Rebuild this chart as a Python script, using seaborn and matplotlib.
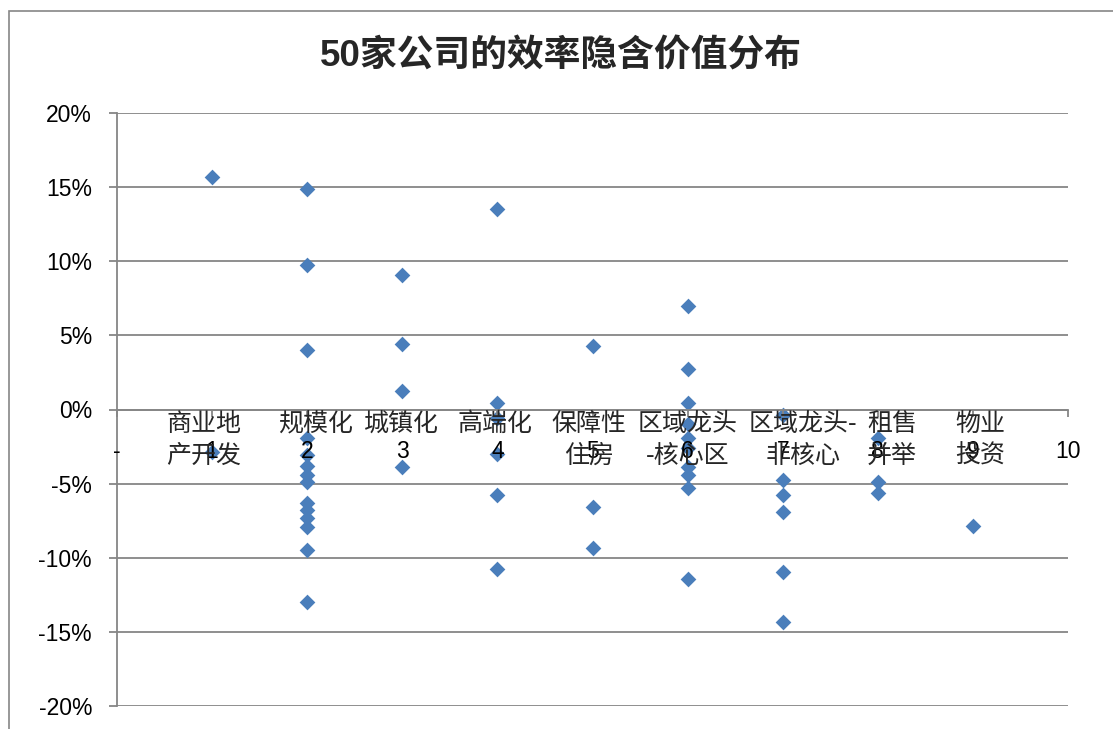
import numpy as np
import pandas as pd
import matplotlib
matplotlib.use("Agg")
import matplotlib.pyplot as plt
import seaborn as sns
from matplotlib.ticker import FuncFormatter
from matplotlib.patches import Rectangle

# ---- data -------------------------------------------------------------
title = "50家公司的效率隐含价值分布"

# category names, split over two lines
label_line1 = ["商业地", "规模化", "城镇化", "高端化", "保障性", "区域龙头", "区域龙头-", "租售", "物业"]
label_line2 = ["产开发", "", "", "", "住房", "-核心区", "非核心", "并举", "投资"]

# implied value of efficiency, per company, grouped by category 1..9
g1 = [0.157, -0.0285]
g2 = [0.149, 0.0975, 0.040, -0.019, -0.031, -0.038, -0.044, -0.049,
      -0.063, -0.068, -0.073, -0.079, -0.095, -0.130]
g3 = [0.0905, 0.044, 0.0125, -0.039]
g4 = [0.135, 0.0045, -0.006, -0.030, -0.058, -0.1075]
g5 = [0.043, -0.066, -0.0935]
g6 = [0.070, 0.027, 0.0045, -0.010, -0.019, -0.026, -0.039, -0.044, -0.053, -0.114]
g7 = [-0.0035, -0.0475, -0.0575, -0.069, -0.1095, -0.1435]
g8 = [-0.0195, -0.049, -0.0565]
g9 = [-0.0785]
groups = [g1, g2, g3, g4, g5, g6, g7, g8, g9]

x_tick_values = list(range(0, 11))
x_tick_labels = ["-"] + [str(i) for i in range(1, 11)]
y_tick_values = [-0.20, -0.15, -0.10, -0.05, 0.0, 0.05, 0.10, 0.15, 0.20]

# ---- layout -----------------------------------------------------------
label_x = [0.915, 2.09, 2.99, 3.97, 4.96, 6.0, 7.21, 8.15, 9.08]

df = pd.DataFrame({
    "group": [i + 1 for i, g in enumerate(groups) for _ in g],
    "value": [v for g in groups for v in g],
})

sns.set_style("white")
plt.rcParams["font.family"] = ["Liberation Sans", "Noto Sans CJK SC", "DejaVu Sans"]

W, H = 1113, 729
fig = plt.figure(figsize=(W / 100, H / 100), dpi=100)
ax = fig.add_axes([117 / W, 1 - 706 / H, (1068 - 117) / W, (706 - 113) / H])

grid_color = "#868686"
for yv in y_tick_values:
    ax.axhline(yv, color=grid_color, lw=1.3, zorder=0.5)

sns.scatterplot(data=df, x="group", y="value", marker="D", s=64,
                color="#4A7EBB", linewidth=0, ax=ax, zorder=1.5, legend=False)

# tick labels sit above the markers
ax.set_axisbelow(False)

ax.set_xlim(0, 10)
ax.set_ylim(-0.20, 0.20)
ax.set_xticks(x_tick_values)
ax.set_xticklabels(x_tick_labels)
ax.set_yticks(y_tick_values)
ax.yaxis.set_major_formatter(FuncFormatter(lambda v, p: f"{v * 100:.0f}%"))
ax.set_xlabel("")
ax.set_ylabel("")

for side in ["top", "right"]:
    ax.spines[side].set_visible(False)
ax.spines["bottom"].set_position(("data", 0))
ax.spines["bottom"].set_color(grid_color)
ax.spines["bottom"].set_linewidth(1.3)
ax.spines["left"].set_color(grid_color)
ax.spines["left"].set_linewidth(1.3)

ax.tick_params(axis="x", direction="out", length=5, width=1.3, color=grid_color,
               pad=17, labelsize=16.5, labelcolor="black", bottom=True)
ax.tick_params(axis="y", direction="out", length=6, width=1.3, color=grid_color,
               pad=12, labelsize=16.5, labelcolor="black", left=True)

cjk = ["Noto Sans CJK SC", "DejaVu Sans"]
for xv, l1, l2 in zip(label_x, label_line1, label_line2):
    ax.text(xv, -0.0098, l1, ha="center", va="center", fontsize=18,
            family=cjk, zorder=5)
    if l2:
        ax.text(xv, -0.0314, l2, ha="center", va="center", fontsize=18,
                family=cjk, zorder=5)

fig.text(561 / W, 1 - 57 / H, title, ha="center", va="center",
         fontsize=26.5, fontweight="bold")

fig.add_artist(Rectangle((9 / W, -0.05), 1.1, 1 - 11 / H + 0.05,
                         transform=fig.transFigure, fill=False,
                         ec=grid_color, lw=1.2, clip_on=False))

fig.savefig("out.png", dpi=100)
